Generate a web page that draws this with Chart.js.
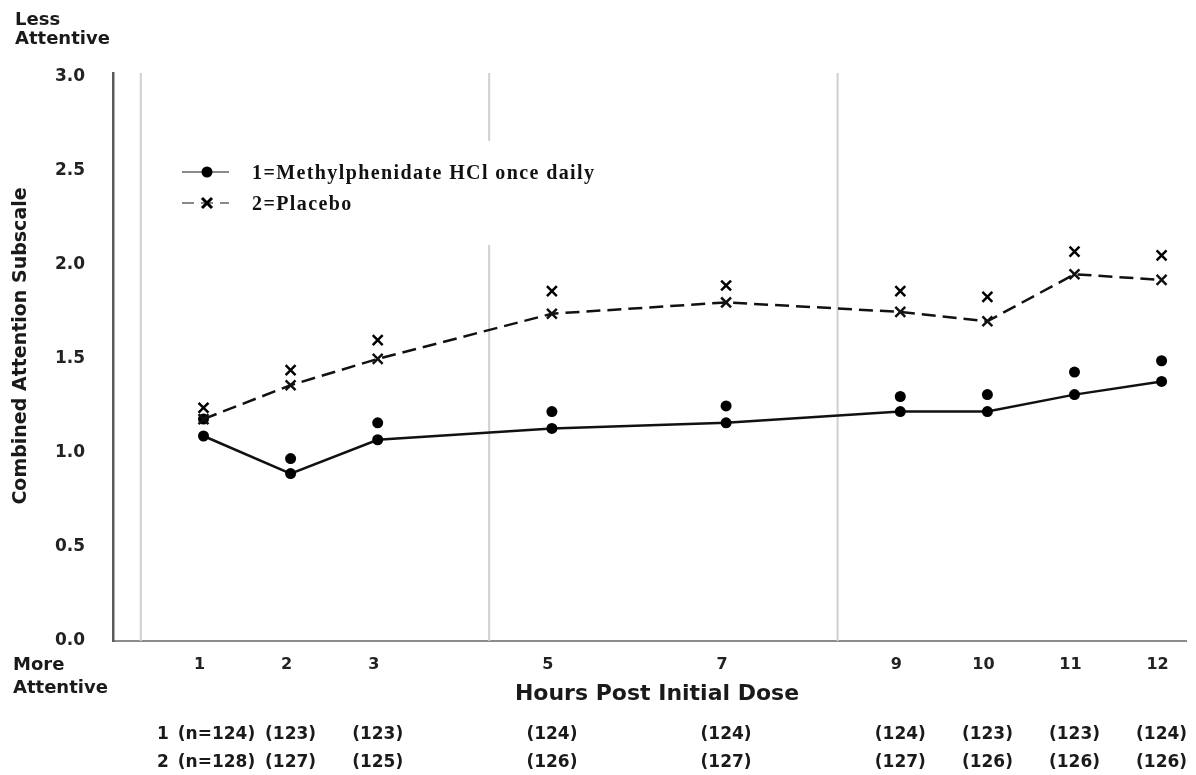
<!DOCTYPE html>
<html>
<head>
<meta charset="utf-8">
<script src="https://cdn.jsdelivr.net/npm/chart.js@4/dist/chart.umd.min.js"></script>
<style>
  html, body { margin: 0; padding: 0; background: #ffffff; }
  #wrap { width: 1196px; height: 775px; position: relative; }
</style>
</head>
<body>
<div id="wrap"><canvas id="c" width="1196" height="775"></canvas></div>
<script>
// ---- data ----
const hours = [1, 2, 3, 5, 7, 9, 10, 11, 12];
const xTickLabels = ['1', '2', '3', '5', '7', '9', '10', '11', '12'];
const yTickValues = [0, 0.5, 1.0, 1.5, 2.0, 2.5, 3.0];
const methylMean  = [1.09, 0.89, 1.07, 1.13, 1.16, 1.22, 1.22, 1.31, 1.38];
const methylUpper = [1.18, 0.97, 1.16, 1.22, 1.25, 1.30, 1.31, 1.43, 1.49];
const placeboMean  = [1.18, 1.36, 1.50, 1.74, 1.80, 1.75, 1.70, 1.95, 1.92];
const placeboUpper = [1.24, 1.44, 1.60, 1.86, 1.89, 1.86, 1.83, 2.07, 2.05];
const nMethyl  = ['(n=124)', '(123)', '(123)', '(124)', '(124)', '(124)', '(123)', '(123)', '(124)'];
const nPlacebo = ['(n=128)', '(127)', '(125)', '(126)', '(127)', '(127)', '(126)', '(126)', '(126)'];
const refLineHours = [0.28, 4.28, 8.28];
const seriesNames = ['1=Methylphenidate HCl once daily', '2=Placebo'];
const yTopLabel = ['Less', 'Attentive'];
const yBottomLabel = ['More', 'Attentive'];
const xTitle = 'Hours Post Initial Dose';
const yTitle = 'Combined Attention Subscale';

const Y_MIN = 0, Y_MAX = 3.02;
const pts = (arr) => hours.map((h, i) => ({ x: h, y: arr[i] }));

const refDatasets = refLineHours.map(h => ({
  data: [{ x: h, y: Y_MIN }, { x: h, y: Y_MAX }],
  borderColor: '#cfcfcf', borderWidth: 2, pointRadius: 0, order: 10
}));

const SANS = '"DejaVu Sans", sans-serif';

const extras = {
  id: 'extras',
  afterDatasetsDraw(chart) {
    const ctx = chart.ctx;
    ctx.save();
    // legend box
    ctx.fillStyle = '#ffffff';
    ctx.fillRect(172, 141, 440, 104);
    // symbol 1
    ctx.strokeStyle = '#8a8a8a'; ctx.lineWidth = 2;
    ctx.beginPath(); ctx.moveTo(182, 172); ctx.lineTo(229, 172); ctx.stroke();
    ctx.fillStyle = '#000';
    ctx.beginPath(); ctx.arc(207, 172, 5.5, 0, Math.PI * 2); ctx.fill();
    // symbol 2
    ctx.setLineDash([12, 7]);
    ctx.beginPath(); ctx.moveTo(182, 203); ctx.lineTo(229, 203); ctx.stroke();
    ctx.setLineDash([]);
    ctx.strokeStyle = '#000'; ctx.lineWidth = 3;
    ctx.beginPath();
    ctx.moveTo(202, 198); ctx.lineTo(212, 208);
    ctx.moveTo(212, 198); ctx.lineTo(202, 208);
    ctx.stroke();
    // legend text
    ctx.fillStyle = '#111';
    ctx.font = 'bold 20px "Liberation Serif", serif';
    ctx.textAlign = 'left'; ctx.textBaseline = 'alphabetic';
    try { ctx.letterSpacing = '1.4px'; } catch (e) {}
    ctx.fillText(seriesNames[0], 252, 179);
    ctx.fillText(seriesNames[1], 252, 210);
    try { ctx.letterSpacing = '0px'; } catch (e) {}
    ctx.restore();
  },
  afterDraw(chart) {
    const ctx = chart.ctx;
    const xs = chart.scales.x;
    ctx.save();
    ctx.fillStyle = '#1a1a1a';
    ctx.textBaseline = 'middle';
    // Less / More Attentive
    ctx.font = 'bold 18px ' + SANS;
    ctx.textAlign = 'left';
    ctx.fillText(yTopLabel[0], 15, 20);
    ctx.fillText(yTopLabel[1], 15, 39);
    ctx.fillText(yBottomLabel[0], 13, 665);
    ctx.fillText(yBottomLabel[1], 13, 688);
    // x title
    ctx.font = 'bold 22px ' + SANS;
    ctx.textAlign = 'center';
    ctx.fillText(xTitle, 657, 694);
    // y title
    ctx.save();
    ctx.translate(21, 346);
    ctx.rotate(-Math.PI / 2);
    ctx.font = 'bold 19px ' + SANS;
    ctx.fillText(yTitle, 0, 0);
    ctx.restore();
    // n rows
    ctx.font = 'bold 17px ' + SANS;
    ctx.textAlign = 'center';
    ctx.fillText('1', 163, 735);
    ctx.fillText('2', 163, 763);
    hours.forEach((h, i) => {
      const px = xs.getPixelForValue(h) + (i === 0 ? 13 : 0);
      ctx.fillText(nMethyl[i], px, 735);
      ctx.fillText(nPlacebo[i], px, 763);
    });
    ctx.restore();
  }
};

new Chart(document.getElementById('c'), {
  type: 'line',
  data: {
    datasets: [
      ...refDatasets,
      {
        label: seriesNames[0], data: pts(methylMean),
        borderColor: '#111', backgroundColor: '#000', borderWidth: 2.5,
        pointStyle: 'circle', pointRadius: 5.5, pointBorderWidth: 0, order: 1
      },
      {
        label: seriesNames[1], data: pts(placeboMean),
        borderColor: '#111', backgroundColor: '#000', borderWidth: 2.5,
        borderDash: [14, 7],
        pointStyle: 'crossRot', pointRadius: 7, pointBorderWidth: 2.5, order: 1
      },
      {
        label: 'methylUpper', data: pts(methylUpper), showLine: false,
        borderColor: '#000', backgroundColor: '#000',
        pointStyle: 'circle', pointRadius: 5.5, pointBorderWidth: 0, order: 2
      },
      {
        label: 'placeboUpper', data: pts(placeboUpper), showLine: false,
        borderColor: '#000', backgroundColor: '#000',
        pointStyle: 'crossRot', pointRadius: 7, pointBorderWidth: 2.5, order: 2
      }
    ]
  },
  options: {
    responsive: false,
    animation: false,
    events: [],
    layout: { padding: { left: 0, top: 73, right: 4, bottom: 0 } },
    plugins: { legend: { display: false }, tooltip: { enabled: false } },
    scales: {
      x: {
        type: 'linear', min: -0.039, max: 12.286,
        grid: { display: false, drawTicks: false },
        border: { display: true, color: '#8c8c8c', width: 2 },
        afterBuildTicks: (s) => { s.ticks = hours.map(v => ({ value: v })); },
        afterFit: (s) => { s.height = 134; s.paddingLeft = 0; s.paddingRight = 0; },
        ticks: {
          autoSkip: false, maxRotation: 0, padding: 14, labelOffset: -4,
          color: '#222', font: { family: 'DejaVu Sans', weight: 'bold', size: 16 },
          callback: (v) => { const i = hours.indexOf(v); return i >= 0 ? xTickLabels[i] : ''; }
        }
      },
      y: {
        type: 'linear', min: Y_MIN, max: Y_MAX,
        grid: { display: false, drawTicks: false },
        border: { display: true, color: '#5a5a5a', width: 2.5 },
        afterBuildTicks: (s) => { s.ticks = yTickValues.map(v => ({ value: v })); },
        afterFit: (s) => { s.width = 113; },
        ticks: {
          padding: 28, color: '#222',
          font: { family: 'DejaVu Sans', weight: 'bold', size: 17 },
          callback: (v) => Number(v).toFixed(1)
        }
      }
    }
  },
  plugins: [extras]
});
</script>
</body>
</html>
